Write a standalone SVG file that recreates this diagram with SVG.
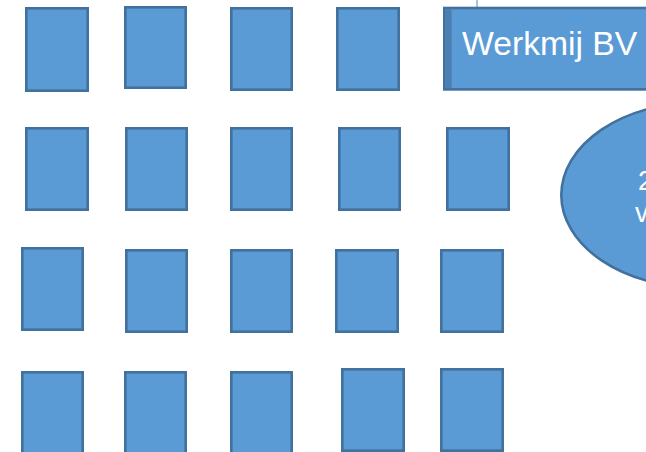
<svg xmlns="http://www.w3.org/2000/svg" width="646" height="452" viewBox="0 0 646 452">
<style>
.b{fill:#5B9BD5;stroke:#41719C;stroke-width:2.6}
.t{fill:#FFFFFF;font-family:"Liberation Sans",Arial,sans-serif}
</style>
<rect width="646" height="452" fill="#FFFFFF"/>
<g id="connectors">
<line x1="477" y1="0" x2="477" y2="8" stroke="#6E9CCB" stroke-width="1.2"/>
</g>
<g id="r1c1"><rect class="b" x="26.3" y="8.3" width="61.4" height="82.4"/></g>
<g id="r1c2"><rect class="b" x="125.3" y="7.3" width="60.4" height="80.4"/></g>
<g id="r1c3"><rect class="b" x="231.3" y="8.3" width="60.4" height="81.4"/></g>
<g id="r1c4"><rect class="b" x="337.3" y="8.3" width="61.4" height="81.4"/></g>
<g id="werkmij">
<rect class="b" x="444.3" y="8" width="210" height="81.4"/>
<rect x="445.6" y="9.3" width="6" height="78.8" fill="#4A7FB1"/>
<text class="t" x="462" y="55" font-size="33.7">Werkmij BV</text>
</g>
<g id="ellipse">
<ellipse class="b" cx="700" cy="195" rx="138.7" ry="92.8"/>
<text class="t" x="638" y="190" font-size="27">2</text>
<text class="t" x="635" y="222" font-size="27">v</text>
</g>
<g id="r2c1"><rect class="b" x="26.3" y="128.3" width="61.4" height="81.4"/></g>
<g id="r2c2"><rect class="b" x="126.3" y="128.3" width="60.4" height="81.4"/></g>
<g id="r2c3"><rect class="b" x="231.3" y="128.3" width="60.4" height="81.4"/></g>
<g id="r2c4"><rect class="b" x="339.3" y="128.3" width="60.4" height="81.4"/></g>
<g id="r2c5"><rect class="b" x="447.3" y="128.3" width="61.4" height="81.4"/></g>
<g id="r3c1"><rect class="b" x="22.3" y="248.3" width="60.4" height="81.4"/></g>
<g id="r3c2"><rect class="b" x="126.3" y="250.3" width="60.4" height="81.4"/></g>
<g id="r3c3"><rect class="b" x="231.3" y="250.3" width="60.4" height="81.4"/></g>
<g id="r3c4"><rect class="b" x="336.3" y="250.3" width="61.4" height="81.4"/></g>
<g id="r3c5"><rect class="b" x="441.3" y="250.3" width="61.4" height="81.4"/></g>
<g id="r4c1"><rect class="b" x="22.3" y="372.3" width="60.4" height="90"/></g>
<g id="r4c2"><rect class="b" x="125.3" y="372.3" width="60.4" height="90"/></g>
<g id="r4c3"><rect class="b" x="231.3" y="372.3" width="60.4" height="90"/></g>
<g id="r4c4"><rect class="b" x="342.3" y="369.3" width="61.4" height="81.4"/></g>
<g id="r4c5"><rect class="b" x="441.3" y="369.3" width="61.4" height="81.4"/></g>
</svg>
